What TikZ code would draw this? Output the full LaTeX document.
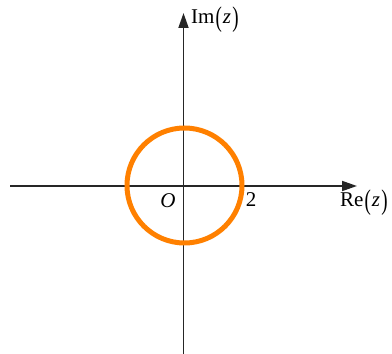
\documentclass[tikz,border=0pt]{standalone}
\usepackage{fontspec}
\setmainfont{Liberation Serif}
\usetikzlibrary{arrows.meta}
\definecolor{circorange}{RGB}{255,128,0}
\newcommand{\bigpar}[1]{\raisebox{-0.15em}{\scalebox{0.9}[1.35]{#1}}}
\tikzset{
  axis/.style={line width=1.8pt, color=black!85, -{Triangle[length=15pt,width=10pt]}},
  lbl/.style={font=\fontsize{21}{24}\selectfont, inner sep=0pt},
  x=1pt, y=1pt
}
\begin{document}
\begin{tikzpicture}
\useasboundingbox (0,0) rectangle (392,354);
\coordinate (xs) at (10,168);
\coordinate (xe) at (357,168);
\coordinate (ys) at (183.5,0);
\coordinate (ye) at (183.5,341);
\draw[axis] (xs) -- (xe);
\draw[axis] (ys) -- (ye);
\draw[circorange, line width=5pt] (184.5,168.5) circle[radius=57.5];
\node[lbl, anchor=west] (im) at (191,334) {Im\kern1pt\bigpar{(}\kern1pt\textit{z}\kern1.5pt\bigpar{)}};
\node[lbl, anchor=west] (re) at (340,151) {Re\kern1pt\bigpar{(}\kern1pt\textit{z}\kern1.5pt\bigpar{)}};
\node[lbl] (o) at (168,153) {\textit{O}};
\node[lbl] (two) at (251,154) {2};
\end{tikzpicture}
\end{document}
